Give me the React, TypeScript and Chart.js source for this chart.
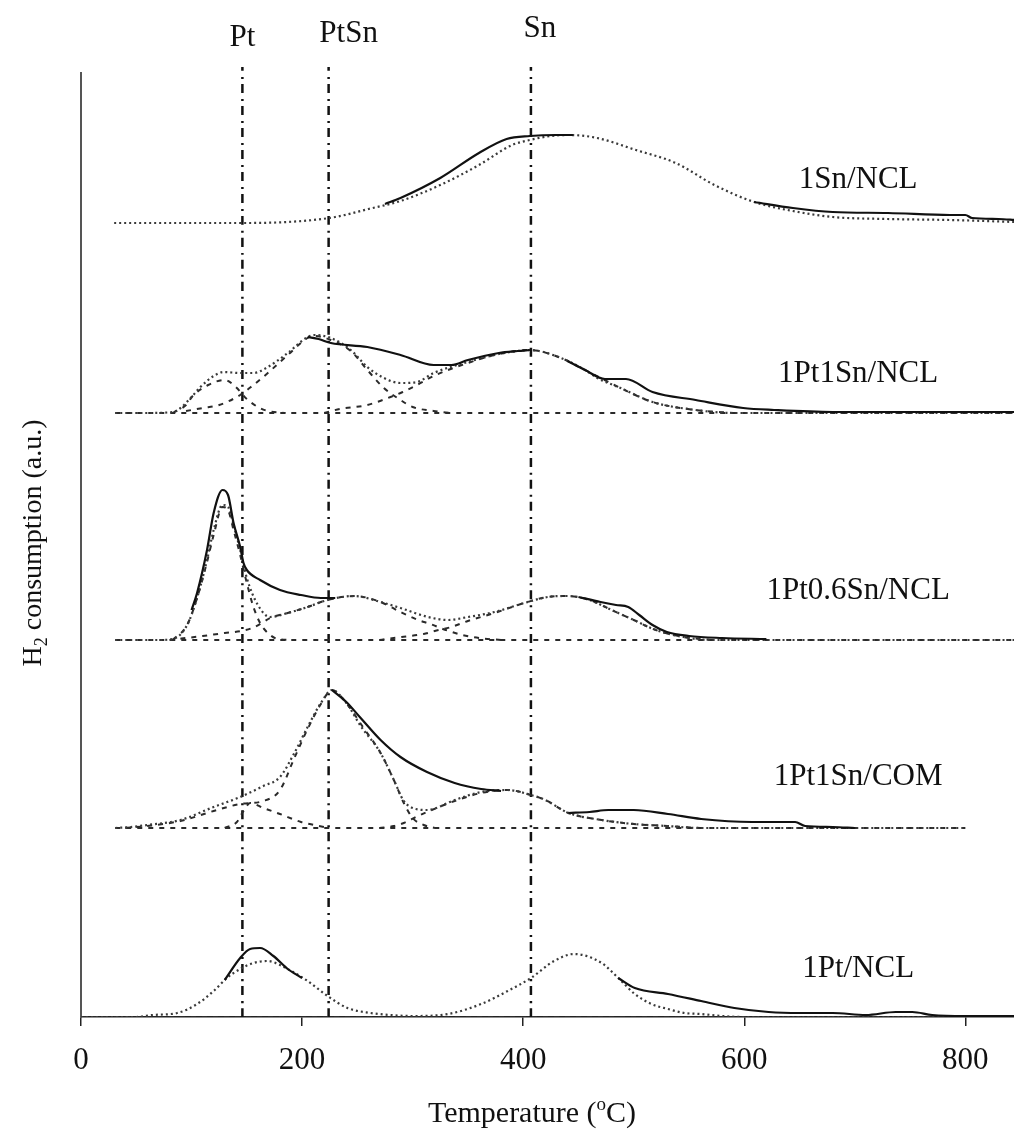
import React, { useEffect, useRef } from "react";
import { Chart, registerables } from "chart.js";
Chart.register(...registerables);

// ---------- axis / annotation data ----------
const xTicks = [0, 200, 400, 600, 800];
const refLines = [146, 224, 407];
const refNames = ["Pt", "PtSn", "Sn"];
const sampleNames = ["1Sn/NCL", "1Pt1Sn/NCL", "1Pt0.6Sn/NCL", "1Pt1Sn/COM", "1Pt/NCL"];
const sampleOffsets = [794, 604, 377, 189, 0];

type P = [number, number];

// ---------- 1Sn/NCL ----------
const snFit: P[] = [[30,0],[100,0],[150,0],[200,2],[230,6],[260,14],[289,22],[325,38],[360,58],[390,78],[406,83],[425,87],[442,88],[467,85],[502,73],[538,60],[573,38],[609,21],[644,12],[680,6],[730,4],[786,3],[846,1]];
const snSolid: P[][] = [
  [[275,19],[289,25],[325,45],[360,70],[385,84],[406,87],[430,88],[445,88]],
  [[609,21],[644,15],[680,11],[730,10],[786,8],[800,8],[806,5],[830,4],[846,3]],
];
const snComps: P[][] = [];
const snBase: P[] = [];

// ---------- 1Pt1Sn/NCL ----------
const ptsnFit: P[] = [[31,0],[60,0],[83,1],[90,5],[100,16],[108,26],[120,37],[129,41],[144,40],[156,40],[169,46],[187,60],[205,76],[211,78],[226,75],[244,63],[259,46],[274,35],[289,30],[304,31],[319,40],[350,51],[378,59],[395,62],[406,63],[432,56],[456,43],[467,35],[488,25],[517,11],[556,3],[590,0],[846,0]];
const ptsnSolid: P[][] = [
  [[205,76],[215,74],[226,70],[259,66],[289,58],[319,48],[335,48],[350,53],[378,60],[395,62],[406,63]],
  [[440,52],[456,43],[474,34],[493,34],[517,21],[556,13],[599,5],[627,3],[680,1],[750,1],[846,1]],
];
const ptsnComps: P[][] = [
  [[83,0],[95,8],[101,17],[115,28],[130,33],[140,26],[150,14],[160,6],[169,2],[185,0]],
  [[95,2],[110,5],[125,8],[144,18],[156,28],[169,40],[187,58],[205,75],[211,77],[226,73],[244,62],[259,43],[274,25],[289,13],[300,6],[319,2],[335,0]],
  [[220,0],[234,4],[259,8],[280,16],[291,21],[304,28],[319,37],[350,50],[378,59],[406,63],[432,56],[456,43],[488,25],[517,11],[556,3],[590,0]],
];
const ptsnBase: P[] = [[31,0],[846,0]];

// ---------- 1Pt0.6Sn/NCL ----------
const pt06Fit: P[] = [[31,0],[70,0],[83,1],[96,15],[105,42],[114,80],[120,110],[128,135],[133,133],[138,115],[144,90],[150,62],[160,35],[171,23],[187,27],[205,33],[223,40],[247,44],[271,38],[289,32],[314,23],[332,20],[350,23],[374,28],[401,37],[422,43],[440,44],[460,40],[480,30],[500,20],[520,10],[545,3],[570,0],[846,0]];
const pt06Solid: P[][] = [
  [[100,30],[105,47],[114,90],[120,127],[128,150],[133,145],[138,117],[144,93],[147,77],[150,70],[162,60],[180,50],[199,45],[217,42],[230,42]],
  [[450,43],[470,38],[484,35],[495,33],[505,25],[517,15],[530,8],[550,4],[580,2],[620,1]],
];
const pt06Comps: P[][] = [
  [[83,0],[96,15],[105,42],[114,78],[120,105],[128,133],[133,130],[138,110],[144,85],[150,57],[156,33],[162,17],[170,6],[178,1],[190,0]],
  [[80,0],[110,4],[130,7],[145,9],[155,12],[165,18],[171,22],[187,27],[205,33],[223,40],[247,44],[271,38],[289,28],[305,20],[316,16],[330,10],[345,5],[360,2],[380,0]],
  [[270,0],[290,3],[310,6],[320,9],[335,13],[350,19],[374,27],[401,37],[422,43],[440,44],[460,40],[480,30],[500,20],[520,10],[545,3],[570,0]],
];
const pt06Base: P[] = [[31,0],[846,0]];

// ---------- 1Pt1Sn/COM ----------
const comFit: P[] = [[31,0],[45,1],[60,3],[90,8],[120,21],[144,31],[165,42],[180,51],[193,75],[205,101],[217,125],[227,138],[240,125],[253,102],[271,75],[283,48],[292,27],[303,19],[313,18],[338,28],[362,36],[386,38],[407,33],[420,28],[441,15],[471,8],[500,4],[530,2],[560,0],[800,0]];
const comSolid: P[][] = [
  [[227,138],[240,126],[253,110],[271,88],[289,71],[313,56],[338,45],[362,39],[380,37]],
  [[441,15],[460,16],[477,18],[500,18],[531,14],[561,9],[607,6],[646,6],[655,2],[680,1],[700,0]],
];
const comComps: P[][] = [
  [[130,0],[141,6],[147,17],[153,25],[165,20],[180,14],[199,6],[211,3],[225,0]],
  [[40,0],[60,2],[90,7],[120,17],[144,24],[165,27],[180,38],[193,70],[205,99],[217,124],[227,138],[240,125],[255,101],[271,75],[283,48],[292,25],[300,10],[310,3],[320,0]],
  [[270,0],[283,2],[292,5],[303,11],[313,16],[338,27],[362,35],[386,38],[407,33],[420,28],[441,15],[471,8],[500,4],[530,2],[560,0]],
];
const comBase: P[] = [[31,0],[800,0]];

// ---------- 1Pt/NCL ----------
const ptFit: P[] = [[0,0],[50,0],[65,2],[87,4],[105,13],[120,26],[132,39],[144,48],[156,54],[169,56],[180,52],[187,48],[205,36],[223,21],[241,9],[262,4],[280,2],[300,1],[332,3],[362,13],[386,26],[407,39],[428,56],[446,63],[471,54],[486,39],[501,23],[516,13],[531,8],[546,4],[561,3],[580,1],[600,0],[844,0]];
const ptSolid: P[][] = [
  [[130,37],[144,59],[153,68],[162,69],[174,61],[187,48],[200,39]],
  [[486,39],[501,29],[531,23],[561,16],[591,9],[622,5],[650,4],[680,4],[710,2],[737,5],[752,5],[770,2],[800,1],[844,1]],
];
const ptComps: P[][] = [];
const ptBase: P[] = [[0,0],[844,0]];

const fits = [snFit, ptsnFit, pt06Fit, comFit, ptFit];
const solids = [snSolid, ptsnSolid, pt06Solid, comSolid, ptSolid];
const comps = [snComps, ptsnComps, pt06Comps, comComps, ptComps];
const bases = [snBase, ptsnBase, pt06Base, comBase, ptBase];

const SERIF = '"Liberation Serif", "Times New Roman", serif';

export default function App() {
  const ref = useRef<HTMLCanvasElement>(null);
  useEffect(() => {
    if (!ref.current) return;
    const shift = (pts: P[], off: number) => pts.map(([x, y]) => ({ x, y: y + off }));
    const datasets: any[] = [];
    const common = { pointRadius: 0, fill: false, cubicInterpolationMode: "monotone" as const };
    sampleOffsets.forEach((off, i) => {
      solids[i].forEach((seg) =>
        datasets.push({ ...common, data: shift(seg, off), borderColor: "#111", borderWidth: 2.2, order: 0 })
      );
      datasets.push({ ...common, data: shift(fits[i], off), borderColor: "#3a3a3a", borderWidth: 2.2, borderDash: [2, 3], order: 1 });
      comps[i].forEach((c) =>
        datasets.push({ ...common, data: shift(c, off), borderColor: "#2a2a2a", borderWidth: 2, borderDash: [5, 6], order: 2 })
      );
      if (bases[i].length)
        datasets.push({ ...common, data: shift(bases[i], off), borderColor: "#2a2a2a", borderWidth: 2, borderDash: [5, 6], order: 2 });
    });
    refLines.forEach((x) =>
      datasets.push({ ...common, data: [{ x, y: 0 }, { x, y: 950 }], borderColor: "#111", borderWidth: 2.5, borderDash: [9, 5, 2, 6], clip: false, order: 3 })
    );

    const textPlugin = {
      id: "texts",
      afterDraw(chart: any) {
        const ctx = chart.ctx as CanvasRenderingContext2D;
        const xs = chart.scales.x;
        const ys = chart.scales.y;
        ctx.save();
        ctx.fillStyle = "#111";
        ctx.textAlign = "center";
        ctx.textBaseline = "alphabetic";
        ctx.font = `31px ${SERIF}`;
        // reference labels
        const refY = [46, 42, 37];
        refNames.forEach((n, i) => {
          const dx = i === 1 ? 20 : i === 2 ? 9 : 0;
          ctx.fillText(n, xs.getPixelForValue(refLines[i]) + dx, refY[i]);
        });
        // sample labels
        const above = [43, 39, 49, 51, 48];
        sampleNames.forEach((n, i) => {
          ctx.textBaseline = "middle";
          ctx.fillText(n, xs.getPixelForValue(703), ys.getPixelForValue(sampleOffsets[i] + above[i]));
        });
        // x title with superscript
        ctx.textBaseline = "alphabetic";
        ctx.textAlign = "left";
        const big = `30px ${SERIF}`;
        const small = `19px ${SERIF}`;
        const p1 = "Temperature (";
        const p3 = "C)";
        ctx.font = big;
        const w1 = ctx.measureText(p1).width;
        const w3 = ctx.measureText(p3).width;
        ctx.font = small;
        const w2 = ctx.measureText("o").width;
        const total = w1 + w2 + w3;
        const x0 = 532 - total / 2;
        const by = 1122;
        ctx.font = big;
        ctx.fillText(p1, x0, by);
        ctx.font = small;
        ctx.fillText("o", x0 + w1, by - 12);
        ctx.font = big;
        ctx.fillText(p3, x0 + w1 + w2, by);
        // y title with subscript
        ctx.save();
        ctx.translate(31, 543);
        ctx.rotate(-Math.PI / 2);
        const yb = `28px ${SERIF}`;
        const ysml = `18px ${SERIF}`;
        const q1 = "H";
        const q3 = " consumption (a.u.)";
        ctx.font = yb;
        const v1 = ctx.measureText(q1).width;
        const v3 = ctx.measureText(q3).width;
        ctx.font = ysml;
        const v2 = ctx.measureText("2").width;
        const tot = v1 + v2 + v3;
        const sx = -tot / 2;
        ctx.textBaseline = "alphabetic";
        ctx.font = yb;
        ctx.fillText(q1, sx, 10);
        ctx.font = ysml;
        ctx.fillText("2", sx + v1, 16);
        ctx.font = yb;
        ctx.fillText(q3, sx + v1 + v2, 10);
        ctx.restore();
        ctx.restore();
      },
    };

    const chart = new Chart(ref.current, {
      type: "line",
      data: { datasets },
      plugins: [textPlugin],
      options: {
        animation: false,
        responsive: false,
        devicePixelRatio: 1,
        layout: { padding: { top: 73, left: 0, right: 0, bottom: 0 } },
        plugins: { legend: { display: false }, tooltip: { enabled: false } },
        scales: {
          x: {
            type: "linear",
            min: 0,
            max: 844,
            afterBuildTicks: (s: any) => {
              s.ticks = xTicks.map((v) => ({ value: v }));
            },
            afterFit: (s: any) => {
              s.height = 114;
            },
            ticks: { font: { family: SERIF, size: 31 }, color: "#111", padding: 16, maxRotation: 0, autoSkip: false },
            grid: { display: true, drawOnChartArea: false, drawTicks: true, tickLength: 9, color: "#222", lineWidth: 1.5 },
            border: { display: true, color: "#222", width: 1.5 },
          },
          y: {
            type: "linear",
            min: 0,
            max: 944,
            afterFit: (s: any) => {
              s.width = 81;
            },
            ticks: { display: false },
            grid: { display: false },
            border: { display: true, color: "#555", width: 2 },
          },
        },
      },
    });
    return () => chart.destroy();
  }, []);
  return (
    <div style={{ position: "absolute", left: 0, top: 0, width: 1014, height: 1131, background: "#fff" }}>
      <canvas ref={ref} width={1014} height={1131} style={{ display: "block" }} />
    </div>
  );
}
